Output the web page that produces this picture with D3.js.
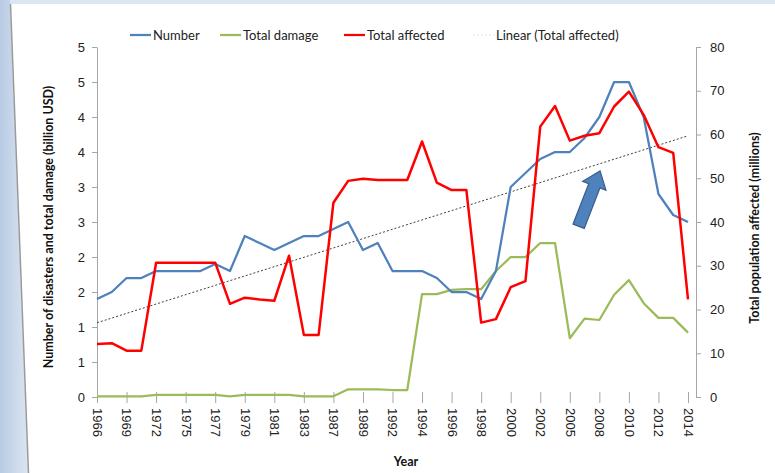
<!DOCTYPE html>
<html>
<head>
<meta charset="utf-8">
<script src="https://cdn.jsdelivr.net/npm/d3@7"></script>
<style>
  body { margin: 0; background: #fff; }
  svg { display: block; font-family: Lato, "Open Sans", sans-serif; }
  .axis text { font-size: 13px; fill: #222; }
  .axis line, .axis path { stroke: #a6a6a6; }
  .title { font-size: 12.5px; font-weight: bold; fill: #111; }
  .legend text { font-size: 13px; fill: #222; }
</style>
</head>
<body>
<div id="chart"></div>
<script>
// year categories (only every second one gets a label)
const years = ["1966", "1967", "1969", "1970", "1972", "1973", "1975", "1976", "1977", "1978",
    "1979", "1980", "1981", "1982", "1983", "1985", "1987", "1988", "1989", "1990",
    "1992", "1993", "1994", "1995", "1996", "1997", "1998", "1999", "2000", "2001",
    "2002", "2003", "2005", "2006", "2008", "2009", "2010", "2011", "2012", "2013", "2014"]

// left axis
const number = [1.4, 1.5, 1.7, 1.7, 1.8, 1.8, 1.8, 1.8, 1.9, 1.8,
    2.3, 2.2, 2.1, 2.2, 2.3, 2.3, 2.4, 2.5, 2.1, 2.2,
    1.8, 1.8, 1.8, 1.7, 1.5, 1.5, 1.4, 1.8, 3.0, 3.2,
    3.4, 3.5, 3.5, 3.7, 4.0, 4.5, 4.5, 4.0, 2.9, 2.6, 2.5]
const totalDamage = [0.01, 0.01, 0.01, 0.01, 0.03, 0.03, 0.03, 0.03, 0.03, 0.01,
    0.03, 0.03, 0.03, 0.03, 0.01, 0.01, 0.01, 0.11, 0.11, 0.11,
    0.1, 0.1, 1.47, 1.47, 1.53, 1.54, 1.54, 1.8, 2.0, 2.0,
    2.2, 2.2, 0.84, 1.12, 1.1, 1.46, 1.67, 1.34, 1.13, 1.13, 0.92]
// right axis (millions)
const totalAffected = [12.1, 12.3, 10.6, 10.6, 30.7, 30.7, 30.7, 30.7, 30.7, 21.3,
    22.7, 22.3, 22.0, 32.3, 14.2, 14.2, 44.4, 49.4, 49.9, 49.6,
    49.6, 49.6, 58.4, 49.0, 47.3, 47.3, 17.0, 17.8, 25.1, 26.5,
    61.8, 66.5, 58.6, 59.7, 60.3, 66.4, 69.8, 64.5, 57.1, 55.8, 22.3]

const leftTicks = [0, 0.5, 1, 1.5, 2, 2.5, 3, 3.5, 4, 4.5, 5]
const rightTicks = [0, 10, 20, 30, 40, 50, 60, 70, 80]

const legendItems = [
    { name: "Number", color: "#4f81bd", x: 130 },
    { name: "Total damage", color: "#9bbb59", x: 220 },
    { name: "Total affected", color: "#ff0000", x: 344 },
    { name: "Linear (Total affected)", color: "#404040", x: 473, dotted: true }
]

const width = 775, height = 473
const plot = { left: 97, right: 696, top: 47, bottom: 397, lastX: 688 }

const svg = d3.select("#chart").append("svg")
    .attr("width", width)
    .attr("height", height)

// slide frame
svg.append("rect").attr("x", 0).attr("y", 0).attr("width", width).attr("height", 4).attr("fill", "#dce6f2")
const grad = svg.append("defs").append("linearGradient").attr("id", "side")
grad.append("stop").attr("offset", "0%").attr("stop-color", "#b8cbe4")
grad.append("stop").attr("offset", "100%").attr("stop-color", "#dbe5f1")
svg.append("path").attr("d", "M0,0L10,0L28,473L0,473Z").attr("fill", "url(#side)")
svg.append("path").attr("d", "M10.5,4L28.5,473").attr("stroke", "#9a9a9a").attr("stroke-width", 1.5)

const x = d3.scalePoint().domain(years).range([plot.left, plot.lastX])
const xi = d3.scaleLinear().domain([0, years.length - 1]).range([plot.left, plot.lastX])
const yLeft = d3.scaleLinear().domain([0, 5]).range([plot.bottom, plot.top])
const yRight = d3.scaleLinear().domain([0, 80]).range([plot.bottom, plot.top])

// axes
const leftAxis = svg.append("g").attr("class", "axis")
    .attr("transform", `translate(${plot.left},0)`)
    .call(d3.axisLeft(yLeft).tickValues(leftTicks).tickSize(5).tickSizeOuter(0).tickPadding(7)
        .tickFormat(d => Math.round(d)))

const rightAxis = svg.append("g").attr("class", "axis")
    .attr("transform", `translate(${plot.right},0)`)
    .call(d3.axisRight(yRight).tickValues(rightTicks).tickSize(5).tickSizeOuter(0).tickPadding(9))

const xAxis = svg.append("g").attr("class", "axis")
    .attr("transform", `translate(0,${plot.bottom})`)
    .call(d3.axisBottom(x).tickValues(years.filter((d, i) => i % 2 == 0)).tickSize(6))
xAxis.select(".domain").remove()
xAxis.selectAll(".tick line").attr("y1", -5).attr("y2", 6)
xAxis.selectAll(".tick text")
    .attr("transform", "rotate(90)")
    .attr("x", 11)
    .attr("y", 0)
    .attr("dy", "0.35em")
    .style("text-anchor", "start")

// titles
svg.append("text").attr("class", "title")
    .attr("transform", "translate(53,227) rotate(-90)")
    .attr("text-anchor", "middle")
    .text("Number of disasters and total damage (billion USD)")
svg.append("text").attr("class", "title")
    .attr("transform", "translate(759,228) rotate(-90)")
    .attr("text-anchor", "middle")
    .text("Total population affected (millions)")
svg.append("text").attr("class", "title")
    .attr("x", 406).attr("y", 466)
    .attr("text-anchor", "middle")
    .text("Year")

// linear trend of total affected
const n = totalAffected.length
const xMean = d3.mean(d3.range(n))
const yMean = d3.mean(totalAffected)
const slope = d3.sum(totalAffected, (v, i) => (i - xMean) * (v - yMean)) /
    d3.sum(d3.range(n), i => (i - xMean) * (i - xMean))
const intercept = yMean - slope * xMean

svg.append("line")
    .attr("x1", xi(0)).attr("y1", yRight(intercept))
    .attr("x2", xi(n - 1)).attr("y2", yRight(intercept + slope * (n - 1)))
    .attr("stroke", "#404040")
    .attr("stroke-width", 1)
    .attr("stroke-dasharray", "2,2")

// series lines
function addLine(values, yScale, color, w) {
    const line = d3.line()
        .x((d, i) => x(years[i]))
        .y(d => yScale(d))
    svg.append("path")
        .datum(values)
        .attr("d", line)
        .attr("fill", "none")
        .attr("stroke", color)
        .attr("stroke-width", w)
        .attr("stroke-linejoin", "round")
}
addLine(totalDamage, yLeft, "#9bbb59", 2.25)
addLine(number, yLeft, "#4f81bd", 2.25)
addLine(totalAffected, yRight, "#ff0000", 2.5)

// block arrow showing the upward trend
const arrowTail = { i: 32.6, v: 2.44 }, arrowTip = { i: 34.05, v: 3.23 }
const ax0 = xi(arrowTail.i), ay0 = yLeft(arrowTail.v)
const ax1 = xi(arrowTip.i), ay1 = yLeft(arrowTip.v)
const len = Math.hypot(ax1 - ax0, ay1 - ay0)
const ang = Math.atan2(ay1 - ay0, ax1 - ax0) * 180 / Math.PI
const hl = 16, sw = 6, hw = 12.5
svg.append("path")
    .attr("d", `M0,${-sw}L${len - hl},${-sw}L${len - hl},${-hw}L${len},0L${len - hl},${hw}L${len - hl},${sw}L0,${sw}Z`)
    .attr("transform", `translate(${ax0},${ay0}) rotate(${ang})`)
    .attr("fill", "#4f81bd")
    .attr("stroke", "#385d8a")
    .attr("stroke-width", 1.2)

// legend
const legend = svg.append("g").attr("class", "legend")
legendItems.forEach(item => {
    const g = legend.append("g").attr("transform", `translate(${item.x},35)`)
    g.append("line")
        .attr("x1", 0).attr("x2", 21)
        .attr("stroke", item.color)
        .attr("stroke-width", item.dotted ? 1 : 2.25)
        .attr("stroke-dasharray", item.dotted ? "2,2" : null)
        .attr("opacity", item.dotted ? 0.15 : 1)
    g.append("text")
        .attr("x", 23)
        .attr("dy", "0.35em")
        .text(item.name)
})
</script>
</body>
</html>
